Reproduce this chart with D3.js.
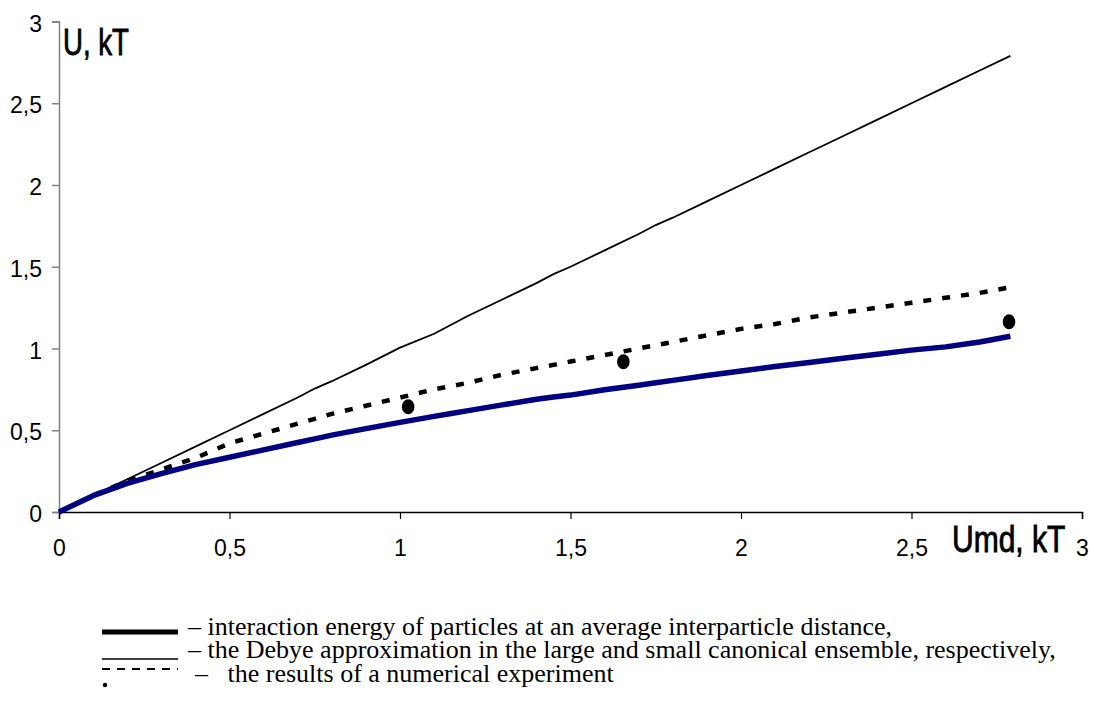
<!DOCTYPE html>
<html>
<head>
<meta charset="utf-8">
<script src="https://cdn.jsdelivr.net/npm/d3@7"></script>
<style>
  html, body { margin: 0; padding: 0; background: #fff; }
  svg { display: block; }
</style>
</head>
<body>
<svg id="chart" width="1094" height="702"></svg>
<script>
// Umd grid (kT) shared by the three computed curves
const umd = [0, 0.1, 0.2, 0.3, 0.4, 0.5, 0.6, 0.7, 0.75, 0.8, 0.9, 1.0, 1.1, 1.15, 1.2, 1.3, 1.4, 1.45,
             1.5, 1.6, 1.7, 1.75, 1.8, 1.9, 2.0, 2.1, 2.2, 2.3, 2.4, 2.5, 2.6, 2.7, 2.79];

// interaction energy of particles at an average interparticle distance
const uInteraction = [0, 0.10, 0.175, 0.235, 0.29, 0.335, 0.38, 0.425, 0.447, 0.47, 0.51, 0.548, 0.585, 0.602,
                      0.62, 0.655, 0.69, 0.703, 0.715, 0.748, 0.775, 0.79, 0.805, 0.835, 0.862, 0.89, 0.915,
                      0.94, 0.965, 0.99, 1.01, 1.04, 1.075];

// Debye approximation, large canonical ensemble
const uDebyeLarge = [0, 0.10, 0.20, 0.30, 0.40, 0.50, 0.60, 0.70, 0.755, 0.80, 0.90, 1.005, 1.09, 1.145,
                     1.20, 1.30, 1.40, 1.455, 1.50, 1.60, 1.70, 1.755, 1.80, 1.90, 2.00, 2.10, 2.20,
                     2.30, 2.40, 2.50, 2.60, 2.70, 2.79];

// Debye approximation, small canonical ensemble
const uDebyeSmall = [0, 0.10, 0.19, 0.26, 0.33, 0.42, 0.48, 0.54, 0.57, 0.60, 0.65, 0.70, 0.75, 0.77,
                     0.79, 0.84, 0.88, 0.90, 0.92, 0.96, 1.00, 1.02, 1.04, 1.08, 1.12, 1.15, 1.19,
                     1.22, 1.25, 1.28, 1.31, 1.34, 1.375];

// numerical experiment
const expUmd = [1.024, 1.655, 2.786];
const expU   = [0.644, 0.919, 1.164];

const tickValues = [0, 0.5, 1, 1.5, 2, 2.5, 3];
const tickLabels = ["0", "0,5", "1", "1,5", "2", "2,5", "3"];

const legendLabels = [
  "\u2013 interaction energy of particles at an average interparticle distance,",
  "\u2013 the Debye approximation in the large and small canonical ensemble, respectively,",
  "\u2013   the results of a numerical experiment"
];

const svg = d3.select("#chart");

const x = d3.scaleLinear().domain([0, 3]).range([59, 1082]);
const y = d3.scaleLinear().domain([0, 3]).range([512, 21.5]);

const fmt = v => tickLabels[tickValues.indexOf(v)];
const sans = "'Liberation Sans', Arial, sans-serif";

// y axis (grey)
const yAxis = svg.append("g")
  .attr("transform", `translate(${x(0)},0)`)
  .call(d3.axisLeft(y).tickValues(tickValues).tickFormat(fmt).tickSize(7).tickPadding(10));
yAxis.select(".domain").attr("stroke", "#808080").attr("stroke-width", 1.5);
yAxis.selectAll(".tick line").attr("stroke", "#808080").attr("stroke-width", 1.5);
yAxis.selectAll(".tick text")
  .attr("font-family", sans)
  .attr("font-size", 23).attr("fill", "#000").attr("dy", "0.42em");

// x axis (black)
const xAxis = svg.append("g")
  .attr("transform", `translate(0,${y(0)})`)
  .call(d3.axisBottom(x).tickValues(tickValues).tickFormat(fmt).tickSize(7).tickSizeOuter(7).tickPadding(21));
xAxis.select(".domain").attr("stroke", "#000").attr("stroke-width", 1.5);
xAxis.selectAll(".tick line").attr("stroke", "#000").attr("stroke-width", 1.2);
xAxis.selectAll(".tick text")
  .attr("font-family", sans)
  .attr("font-size", 23).attr("fill", "#000");

// axis titles: tall, narrow lettering
svg.append("text")
  .attr("transform", "translate(63,55) scale(0.92,1.22)")
  .attr("font-family", sans)
  .attr("font-size", 30)
  .attr("stroke", "#000").attr("stroke-width", 0.7)
  .text("U, kT");

svg.append("text")
  .attr("transform", "translate(952,552) scale(1,1.22)")
  .attr("font-family", sans)
  .attr("font-size", 30)
  .attr("stroke", "#000").attr("stroke-width", 0.7)
  .text("Umd, kT");

const line = d3.line().x(d => x(d[0])).y(d => y(d[1]));
const pairs = vals => umd.map((u, i) => [u, vals[i]]);

const plot = svg.append("g");

plot.append("path")
  .datum(pairs(uDebyeLarge))
  .attr("d", line)
  .attr("fill", "none").attr("stroke", "#000").attr("stroke-width", 1.8);

plot.append("path")
  .datum(pairs(uDebyeSmall))
  .attr("d", line)
  .attr("fill", "none").attr("stroke", "#000").attr("stroke-width", 4.5)
  .attr("stroke-dasharray", "8,11");

plot.append("path")
  .datum(pairs(uInteraction))
  .attr("d", line)
  .attr("fill", "none").attr("stroke", "#000080").attr("stroke-width", 5.5)
  .attr("stroke-linejoin", "round");

plot.selectAll("ellipse.exp")
  .data(expUmd.map((u, i) => [u, expU[i]]))
  .join("ellipse")
  .attr("class", "exp")
  .attr("cx", d => x(d[0])).attr("cy", d => y(d[1]))
  .attr("rx", 6.3).attr("ry", 7.5)
  .attr("fill", "#000");

// legend
const legend = svg.append("g");
legend.append("line")
  .attr("x1", 102).attr("x2", 178).attr("y1", 632).attr("y2", 632)
  .attr("stroke", "#000").attr("stroke-width", 5);
legend.append("line")
  .attr("x1", 102).attr("x2", 178).attr("y1", 659).attr("y2", 659)
  .attr("stroke", "#000").attr("stroke-width", 1.6);
legend.append("line")
  .attr("x1", 102).attr("x2", 178).attr("y1", 669).attr("y2", 669)
  .attr("stroke", "#000").attr("stroke-width", 2)
  .attr("stroke-dasharray", "8,7");
legend.append("circle")
  .attr("cx", 105).attr("cy", 685).attr("r", 2.2).attr("fill", "#000");

const legendX = [188, 188, 195];
const legendY = [635, 658, 682];
legend.selectAll("text")
  .data(legendLabels)
  .join("text")
  .attr("x", (d, i) => legendX[i])
  .attr("y", (d, i) => legendY[i])
  .attr("font-family", "'Liberation Serif', 'Times New Roman', serif")
  .attr("font-size", 26)
  .attr("fill", "#000")
  .style("white-space", "pre")
  .text(d => d);
</script>
</body>
</html>
